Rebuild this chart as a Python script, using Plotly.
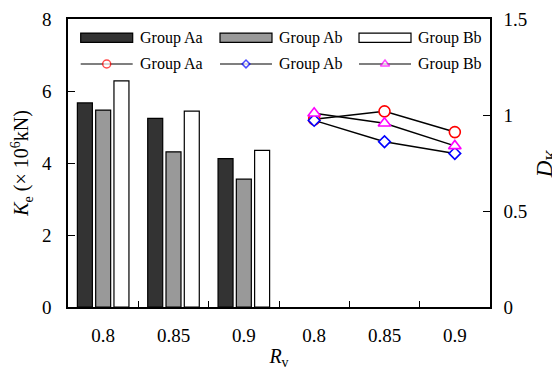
import plotly.graph_objects as go

# ---- data ----
rv_labels = ["0.8", "0.85", "0.9", "0.8", "0.85", "0.9"]
groups = ["Group Aa", "Group Ab", "Group Bb"]
ke_aa = [5.67, 5.24, 4.12]
ke_ab = [5.47, 4.31, 3.55]
ke_bb = [6.28, 5.44, 4.35]
dk_aa = [0.978, 1.019, 0.911]
dk_ab = [0.972, 0.861, 0.800]
dk_bb = [1.009, 0.957, 0.839]

bar_pos = [0, 1, 2]
line_pos = [3, 4, 5]

FONT = "Liberation Serif"
bar_colors = ["#333333", "#999999", "#ffffff"]
line_colors = ["#ff0000", "#0000ff", "#ff00ff"]
symbols = ["circle", "diamond", "triangle-up"]
msizes = [11, 9, 11]

fig = go.Figure()
for name, vals, col in zip(groups, [ke_aa, ke_ab, ke_bb], bar_colors):
    fig.add_trace(go.Bar(x=bar_pos, y=vals, name=name, marker=dict(color=col, line=dict(color="black", width=1.2)),
                         showlegend=False))
for name, vals, col, sym, ms in zip(groups, [dk_aa, dk_ab, dk_bb], line_colors, symbols, msizes):
    fig.add_trace(go.Scatter(x=line_pos, y=vals, name=name, yaxis="y2", mode="lines+markers",
                             line=dict(color="black", width=1.5),
                             marker=dict(symbol=sym, size=ms, color="white", line=dict(color=col, width=1.6)),
                             showlegend=False))

# ---- custom legend (overlay axes spanning the plot area) ----
col_x0 = [0.0301, 0.3602, 0.6896]
col_w = 0.1232
row1_y = 0.935
row2_y = 0.8438
shapes = []
annotations = []
for i, name in enumerate(groups):
    x0 = col_x0[i]
    shapes.append(dict(type="rect", xref="paper", yref="paper", x0=x0, x1=x0 + col_w, y0=row1_y - 0.016, y1=row1_y + 0.016,
                       fillcolor=bar_colors[i], line=dict(color="black", width=1.2)))
    for ry in (row1_y, row2_y):
        annotations.append(dict(xref="paper", yref="paper", x=x0 + col_w + 0.012, y=ry, text=name, showarrow=False,
                                xanchor="left", yanchor="middle", font=dict(family=FONT, size=16, color="black")))
    fig.add_trace(go.Scatter(x=[x0, x0 + col_w / 2, x0 + col_w], y=[row2_y] * 3, xaxis="x2", yaxis="y3",
                             mode="lines+markers", line=dict(color="black", width=1.2),
                             marker=dict(symbol=symbols[i], size=[0, msizes[i] - 3, 0], color="white",
                                         line=dict(color=line_colors[i], width=1.5)),
                             showlegend=False, hoverinfo="skip"))

axis_common = dict(showline=True, linecolor="black", linewidth=1.5, ticks="inside", tickcolor="black",
                   tickfont=dict(family=FONT, size=19, color="black"), showgrid=False, zeroline=False,
                   automargin=False)

fig.update_layout(
    width=552, height=362,
    margin=dict(l=60, r=70, t=11, b=63),
    plot_bgcolor="white", paper_bgcolor="white",
    barmode="group", bargap=0.22, bargroupgap=0.18,
    showlegend=False,
    font=dict(family=FONT, color="black"),
    xaxis=dict(range=[-0.5, 5.5], tickvals=list(range(6)), ticktext=rv_labels, ticklen=0, mirror=True,
               ticklabelstandoff=10,
               minor=dict(tickvals=[0.5, 1.5, 2.5, 3.5, 4.5], ticks="inside", ticklen=6, tickcolor="black"),
               title=dict(text="<i>R</i><sub>v</sub>", font=dict(family=FONT, size=20), standoff=6),
               **axis_common),
    yaxis=dict(range=[0, 8], tickvals=[0, 2, 4, 6, 8], ticklen=7, mirror=False, ticklabelstandoff=11,
               title=dict(text="<i>K</i><sub>e</sub> (× 10<sup>6</sup>kN)", font=dict(family=FONT, size=20), standoff=9),
               **axis_common),
    yaxis2=dict(range=[0, 1.5], tickvals=[0, 0.5, 1, 1.5], ticktext=["0", "0.5", "1", "1.5"], ticklen=7,
                overlaying="y", side="right", ticklabelstandoff=8,
                title=dict(text="<i>D</i><sub>K</sub>", font=dict(family=FONT, size=23), standoff=12),
                **axis_common),
    xaxis2=dict(range=[0, 1], overlaying="x", visible=False),
    yaxis3=dict(range=[0, 1], overlaying="y", visible=False),
    shapes=shapes,
    annotations=annotations,
)

fig.write_html("out.html")
